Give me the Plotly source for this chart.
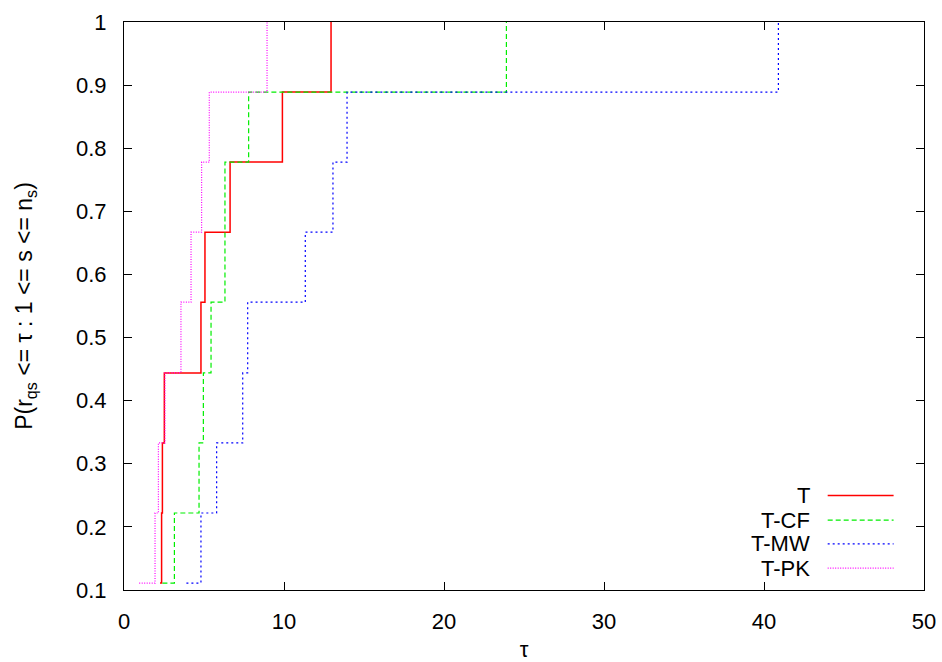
import plotly.graph_objects as go

# Data (staircase points: level reached at each tau)
levels = [0.111, 0.222, 0.333, 0.444, 0.556, 0.667, 0.778, 0.889, 1.0]
tau_T = [2.25, 2.35, 2.4, 2.52, 4.81, 5.06, 6.63, 9.9, 12.94]
tau_TCF = [2.4, 3.15, 4.69, 4.96, 5.44, 6.31, 6.31, 7.79, 23.9]
tau_TMW = [3.9, 4.81, 5.79, 7.42, 7.73, 11.33, 13.06, 13.94, 40.9]
tau_TPK = [0.95, 1.94, 2.15, 2.56, 3.56, 4.19, 4.85, 5.33, 8.94]

names = ["T", "T-CF", "T-MW", "T-PK"]
series = [tau_T, tau_TCF, tau_TMW, tau_TPK]
colors = ["#ff0000", "#00ee00", "#0000ff", "#ff00ff"]
dashes = ["solid", "5px,3px", "2px,3px", "1px,1.5px"]
widths = [1.5, 1.2, 1.2, 1.2]

FONT = "Liberation Sans, Arial, sans-serif"

fig = go.Figure()
for n, xs, c, d, w in zip(names, series, colors, dashes, widths):
    fig.add_trace(go.Scatter(x=xs, y=levels, mode="lines", name=n,
                             line=dict(color=c, dash=d, width=w, shape="hv"),
                             showlegend=False))

# Manual gnuplot-style legend (text right-aligned, sample on the right)
leg_y = [0.1663, 0.1231, 0.0813, 0.0386]
for n, c, d, w, yy in zip(names, colors, dashes, widths, leg_y):
    fig.add_annotation(x=0.8596, y=yy, xref="paper", yref="paper", text=n,
                       showarrow=False, xanchor="right", yanchor="middle",
                       font=dict(family=FONT, size=22, color="black"))
    fig.add_shape(type="line", xref="paper", yref="paper",
                  x0=0.8796, x1=0.962, y0=yy, y1=yy,
                  line=dict(color=c, dash=d, width=w))

axis_common = dict(showline=True, linecolor="black", linewidth=1, mirror="ticks",
                   ticks="inside", ticklen=8, tickcolor="black", tickwidth=1,
                   showgrid=False, zeroline=False, automargin=False,
                   ticklabelstandoff=12,
                   tickfont=dict(family=FONT, size=22, color="black"))

fig.update_xaxes(range=[0, 50], dtick=10, tick0=0,
                 title=dict(text="τ", font=dict(family=FONT, size=22, color="black"), standoff=14),
                 **axis_common)
fig.update_yaxes(range=[0.1, 1.0], dtick=0.1, tick0=0.1, tickformat=".1f",
                 labelalias={"1.0": "1"},
                 title=dict(text="P(r<sub>qs</sub> <= τ : 1 <= s <= n<sub>s</sub>)",
                            font=dict(family=FONT, size=23, color="black"), standoff=36),
                 **axis_common)
fig.update_layout(width=942, height=662, margin=dict(l=124, r=18, t=22, b=72),
                  plot_bgcolor="white", paper_bgcolor="white",
                  font=dict(family=FONT, color="black"))
fig.write_html("out.html")
